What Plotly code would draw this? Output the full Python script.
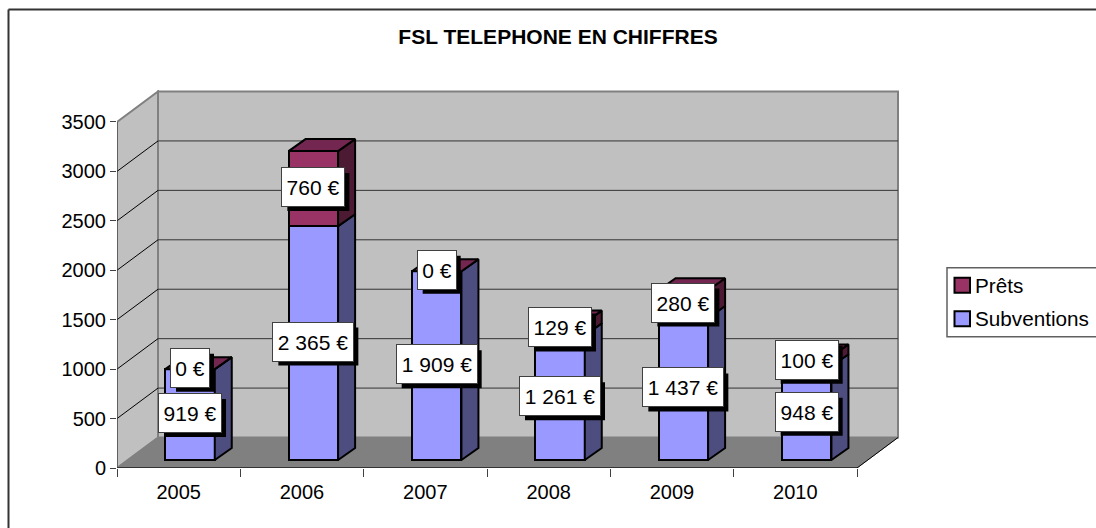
import plotly.graph_objects as go

years = ["2005", "2006", "2007", "2008", "2009", "2010"]
subventions = [919, 2365, 1909, 1261, 1437, 948]
prets = [0, 760, 0, 129, 280, 100]
sub_labels = ["919 €", "2 365 €", "1 909 €", "1 261 €", "1 437 €", "948 €"]
pret_labels = ["0 €", "760 €", "0 €", "129 €", "280 €", "100 €"]
y_ticks = [0, 500, 1000, 1500, 2000, 2500, 3000, 3500]
series_names = ["Prêts", "Subventions"]

W, H = 1096, 528
L, R, T, B = 117, 899, 90, 468.3
PX_X = 740 / 6            # pixels per category
PX_Y = 346.3 / 3500       # pixels per value unit
DX = 41 / PX_X            # wall depth in axis units
DY = 30.5 / PX_Y
BAR_W = 49.5 / PX_X
BAR_DX = 17 / PX_X
BAR_DY = 12 / PX_Y
OFF_X = 0.092             # where the bar sits on the floor
OFF_Y = 8 / PX_Y

FONT = "Liberation Sans"
FS = 21
FS_AXIS = 20
C_SUB, C_SUB_SIDE = "#9999FF", "#4D4D80"
C_PRET, C_PRET_SIDE, C_PRET_TOP = "#993366", "#4D1A33", "#732650"
WALL, FLOOR, EDGE = "#C0C0C0", "#808080", "#808080"
TICK = "#404040"


def poly(pts):
    return "M " + " L ".join(f"{x},{y}" for x, y in pts) + " Z"


shapes = []
# walls and floor
shapes.append(dict(type="path", layer="below", fillcolor=WALL, line=dict(color=EDGE, width=2),
                   path=poly([(DX, DY), (6 + DX, DY), (6 + DX, 3500 + DY), (DX, 3500 + DY)])))
shapes.append(dict(type="path", layer="below", fillcolor=WALL, line=dict(color=EDGE, width=2),
                   path=poly([(0, 0), (DX, DY), (DX, 3500 + DY), (0, 3500)])))
shapes.append(dict(type="path", layer="below", fillcolor=FLOOR, line=dict(color=EDGE, width=1),
                   path=poly([(0, 0), (6, 0), (6 + DX, DY), (DX, DY)])))
# gridlines
for v in y_ticks[1:-1]:
    shapes.append(dict(type="line", layer="below", x0=0, y0=v, x1=DX, y1=v + DY,
                       line=dict(color="#000000", width=1)))
    shapes.append(dict(type="line", layer="below", x0=DX, y0=v + DY, x1=6 + DX, y1=v + DY,
                       line=dict(color="#333333", width=1)))
# axis lines
shapes.append(dict(type="line", layer="below", x0=0, y0=0, x1=0, y1=3500, line=dict(color=TICK, width=1)))
shapes.append(dict(type="line", layer="below", x0=6, y0=0, x1=6 + DX, y1=DY, line=dict(color="#000000", width=1)))
shapes.append(dict(type="line", layer="below", x0=0, y0=0, x1=6, y1=0, line=dict(color="#333333", width=2)))


def paper_x(p):
    return (p - L) / (R - L)


def paper_y(p):
    return (B - p) / (B - T)


# chart frame (cropped at the right and bottom of the picture)
shapes.append(dict(type="line", xref="paper", yref="paper", x0=paper_x(8.5), x1=paper_x(1100),
                   y0=paper_y(9.5), y1=paper_y(9.5), line=dict(color="#333333", width=2)))
shapes.append(dict(type="line", xref="paper", yref="paper", x0=paper_x(8.5), x1=paper_x(8.5),
                   y0=paper_y(9.5), y1=paper_y(532), line=dict(color="#333333", width=2)))

centres = [i + 0.5 + OFF_X for i in range(len(years))]
fig = go.Figure()

fig.add_trace(go.Bar(x=centres, y=subventions, base=[OFF_Y] * 6, width=BAR_W, name=series_names[1],
                     showlegend=False,
                     marker=dict(color=C_SUB, line=dict(color="black", width=2))))
fig.add_trace(go.Bar(x=centres, y=prets, base=[OFF_Y + v for v in subventions], width=BAR_W, name=series_names[0],
                     showlegend=False,
                     marker=dict(color=C_PRET, line=dict(color="black", width=2))))


def face(pts, colour):
    fig.add_trace(go.Scatter(x=[p[0] for p in pts] + [pts[0][0]], y=[p[1] for p in pts] + [pts[0][1]],
                             mode="lines", fill="toself", fillcolor=colour,
                             line=dict(color="black", width=2), showlegend=False, hoverinfo="skip"))


for c, s, p in zip(centres, subventions, prets):
    x1 = c + BAR_W / 2
    x0 = c - BAR_W / 2
    b0, b1, b2 = OFF_Y, OFF_Y + s, OFF_Y + s + p
    face([(x1, b0), (x1 + BAR_DX, b0 + BAR_DY), (x1 + BAR_DX, b1 + BAR_DY), (x1, b1)], C_SUB_SIDE)
    face([(x1, b1), (x1 + BAR_DX, b1 + BAR_DY), (x1 + BAR_DX, b2 + BAR_DY), (x1, b2)], C_PRET_SIDE)
    face([(x0, b2), (x1, b2), (x1 + BAR_DX, b2 + BAR_DY), (x0 + BAR_DX, b2 + BAR_DY)], C_PRET_TOP)

annotations = []


def box_width(text):
    digits = sum(ch.isdigit() for ch in text)
    return 26 + 12 * digits + (6 if digits == 4 else 0)


def label(x, y, text):
    w, h = box_width(text), 38
    annotations.append(dict(x=x, y=y, text=text, showarrow=False, width=w, height=h,
                            yshift=1.5, bgcolor="white", bordercolor="#404040", borderwidth=1, borderpad=0,
                            font=dict(family=FONT, size=FS, color="black"), align="center", valign="middle"))
    shapes.append(dict(type="rect", layer="above", xref="x", yref="y", xsizemode="pixel", ysizemode="pixel",
                       xanchor=x, yanchor=y, x0=-w / 2 + 5, x1=w / 2 + 5, y0=-h / 2 - 5 + 1.5, y1=h / 2 - 5 + 1.5,
                       fillcolor="black", line=dict(width=0)))


for c, s, p, ls, lp in zip(centres, subventions, prets, sub_labels, pret_labels):
    label(c, OFF_Y + s / 2, ls)
    label(c, OFF_Y + s + p / 2, lp)

# legend box, swatches and entries
shapes.append(dict(type="rect", xref="paper", yref="paper", layer="above", x0=paper_x(947), x1=paper_x(1100),
                   y0=paper_y(337), y1=paper_y(268), fillcolor="white", line=dict(color="#606060", width=1.5)))
for name, colour, yc in zip(series_names, [C_PRET, C_SUB], [285.5, 319]):
    shapes.append(dict(type="rect", xref="paper", yref="paper", layer="above", x0=paper_x(954.5), x1=paper_x(970),
                       y0=paper_y(yc + 7.5), y1=paper_y(yc - 7.5), fillcolor=colour, line=dict(color="black", width=2)))
    annotations.append(dict(xref="paper", yref="paper", x=paper_x(973), y=paper_y(yc), text=name, showarrow=False,
                            xanchor="left", yanchor="middle", font=dict(family=FONT, size=20.7, color="black")))

fig.update_layout(
    width=W, height=H, autosize=False,
    margin=dict(l=L, r=W - R, t=T, b=H - B, pad=0),
    paper_bgcolor="white", plot_bgcolor="white",
    barmode="overlay", bargap=0,
    font=dict(family=FONT, size=FS, color="black"),
    title=dict(text="<b>FSL TELEPHONE EN CHIFFRES</b>", x=558 / W, xanchor="center",
               y=1 - 37 / H, yanchor="middle", font=dict(family=FONT, size=FS, color="black")),
    xaxis=dict(range=[0, (R - L) / PX_X], tickmode="array", tickvals=[i + 0.5 for i in range(6)],
               ticktext=years, ticks="", ticklen=0, showgrid=False, zeroline=False, showline=False,
               ticklabelstandoff=10, tickfont=dict(family=FONT, size=FS_AXIS, color="black"),
               minor=dict(tickmode="array", tickvals=list(range(7)), ticks="outside", ticklen=8,
                          tickcolor=TICK, tickwidth=1, showgrid=False)),
    yaxis=dict(range=[0, (B - T) / PX_Y], tickmode="array", tickvals=y_ticks, ticks="outside", ticklen=6,
               tickcolor=TICK, tickwidth=1, showgrid=False, zeroline=False, showline=False,
               tickfont=dict(family=FONT, size=FS_AXIS, color="black")),
    shapes=shapes, annotations=annotations, showlegend=False, hovermode=False,
)
fig.write_html("out.html", config={"displayModeBar": False},
               post_script="document.body.style.margin='0';document.documentElement.style.overflow='hidden';")
